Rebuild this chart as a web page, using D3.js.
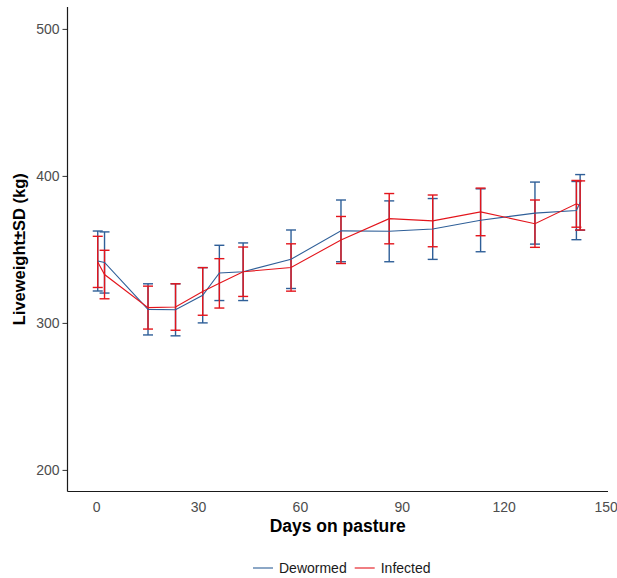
<!DOCTYPE html>
<html>
<head>
<meta charset="utf-8">
<script src="https://cdn.jsdelivr.net/npm/d3@7"></script>
<style>
  html, body { margin: 0; padding: 0; background: #fff; }
  text { font-family: "Liberation Sans", Arial, sans-serif; }
</style>
</head>
<body>
<svg id="chart" width="617" height="578"></svg>
<script>
// ---- data ----
const days = [0.5, 2.5, 15.3, 23.4, 31.4, 36.3, 43.3, 57.4, 72.1, 86.3, 99.1, 113.2, 129.2, 141.4, 142.5];
const dewormedMean = [342.1, 341.1, 309.2, 308.9, 318.8, 334.0, 334.8, 343.3, 362.6, 362.3, 363.9, 369.8, 374.7, 376.4, 382.0];
const dewormedSD   = [20.4, 20.8, 17.4, 17.7, 18.8, 18.8, 19.6, 19.9, 21.0, 20.7, 20.7, 21.4, 21.1, 19.8, 18.9];
const infectedMean = [341.5, 332.9, 310.4, 310.8, 321.4, 326.9, 334.8, 337.7, 356.4, 370.9, 369.4, 375.5, 367.5, 381.0, 379.9];
const infectedSD   = [17.4, 16.5, 14.6, 15.8, 16.2, 16.8, 16.8, 16.1, 16.0, 17.1, 17.6, 16.2, 16.1, 15.9, 16.7];
const seriesNames = ["Dewormed", "Infected"];
const seriesColors = ["#2f5f98", "#e3151c"];
const xTicks = [0, 30, 60, 90, 120, 150];
const yTicks = [200, 300, 400, 500];
const xTitle = "Days on pasture";
const yTitle = "Liveweight\u00b1SD (kg)";

(function () {
const series = [
  { name: seriesNames[0], color: seriesColors[0], pts: days.map((d, i) => ({ x: d, m: dewormedMean[i], s: dewormedSD[i] })) },
  { name: seriesNames[1], color: seriesColors[1], pts: days.map((d, i) => ({ x: d, m: infectedMean[i], s: infectedSD[i] })) }
];

// ---- layout ----
const svg = d3.select("#chart");
const pLeft = 67.5, pRight = 608, pTop = 7, pBottom = 491.5;
const x = d3.scaleLinear().domain([-8.4, 150.7]).range([pLeft, pRight]);
const y = d3.scaleLinear().domain([185.3, 514.9]).range([pBottom, pTop]);

// error bars
const capW = 5;
series.forEach(s => {
  const g = svg.append("g").attr("stroke", s.color).attr("stroke-width", 1.4).attr("fill", "none");
  s.pts.forEach(p => {
    const cx = x(p.x), y1 = y(p.m + p.s), y2 = y(p.m - p.s);
    g.append("line").attr("x1", cx).attr("x2", cx).attr("y1", y1).attr("y2", y2);
    g.append("line").attr("x1", cx - capW).attr("x2", cx + capW).attr("y1", y1).attr("y2", y1);
    g.append("line").attr("x1", cx - capW).attr("x2", cx + capW).attr("y1", y2).attr("y2", y2);
  });
});

// lines
const line = d3.line().x(p => x(p.x)).y(p => y(p.m));
series.forEach(s => {
  svg.append("path").datum(s.pts).attr("d", line)
    .attr("fill", "none").attr("stroke", s.color).attr("stroke-width", 1.1);
});

// axes
const yAxis = d3.axisLeft(y).tickValues(yTicks).tickSize(5).tickPadding(3);
const gy = svg.append("g").attr("transform", `translate(${pLeft},0)`).call(yAxis);
gy.select(".domain").remove();
gy.selectAll(".tick line").attr("stroke", "#333");
gy.selectAll(".tick text").attr("fill", "#4d4d4d").style("font-size", "14px")
  .style("font-family", "'Liberation Sans', Arial, sans-serif");

const xAxis = d3.axisBottom(x).tickValues(xTicks).tickSize(0).tickPadding(11);
const gx = svg.append("g").attr("transform", `translate(0,${pBottom})`).call(xAxis);
gx.select(".domain").remove();
gx.selectAll(".tick text").attr("fill", "#4d4d4d").style("font-size", "14px")
  .style("font-family", "'Liberation Sans', Arial, sans-serif");

// axis lines
svg.append("line").attr("x1", pLeft).attr("x2", pLeft).attr("y1", pTop).attr("y2", pBottom)
  .attr("stroke", "#1a1a1a").attr("stroke-width", 1.2);
svg.append("line").attr("x1", pLeft).attr("x2", pRight).attr("y1", pBottom).attr("y2", pBottom)
  .attr("stroke", "#1a1a1a").attr("stroke-width", 1.2);

// titles
svg.append("text").attr("x", (pLeft + pRight) / 2).attr("y", 532)
  .attr("text-anchor", "middle").style("font-size", "17.5px").style("font-weight", "bold")
  .attr("fill", "#000").text(xTitle);
svg.append("text").attr("transform", `translate(25,${(pTop + pBottom) / 2}) rotate(-90)`)
  .attr("text-anchor", "middle").style("font-size", "16.5px").style("font-weight", "bold")
  .attr("fill", "#000").text(yTitle);

// legend
const legend = svg.append("g").attr("transform", "translate(253,568)");
let lx = 0;
series.forEach((s, i) => {
  const g = legend.append("g").attr("transform", `translate(${lx},0)`);
  g.append("line").attr("x1", 0).attr("x2", 20).attr("y1", 0).attr("y2", 0)
    .attr("stroke", s.color).attr("stroke-width", 1.1);
  const t = g.append("text").attr("x", 26).attr("y", 0).attr("dy", "0.35em")
    .style("font-size", "14px").attr("fill", "#1a1a1a").text(s.name);
  lx += 26 + t.node().getComputedTextLength() + 8;
});
})();
</script>
</body>
</html>
